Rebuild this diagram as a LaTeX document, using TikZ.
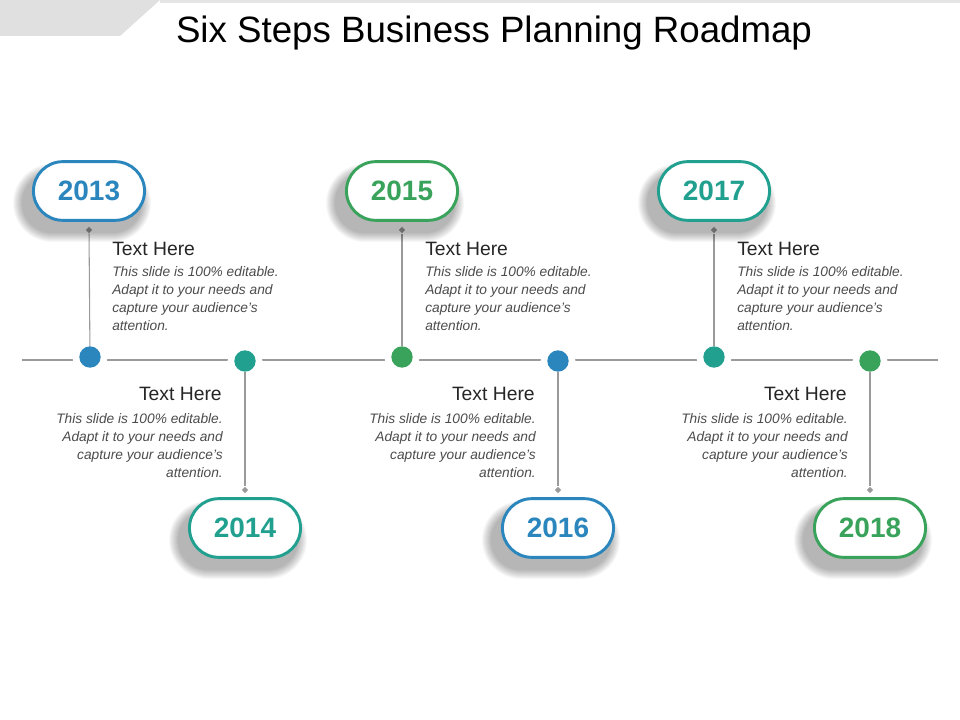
\documentclass[tikz,border=0pt]{standalone}
\usepackage{fontspec}
\setmainfont{Liberation Sans}
\usetikzlibrary{shapes.misc,shapes.geometric}
\definecolor{cblue}{HTML}{2A86BD}
\definecolor{cteal}{HTML}{22A08F}
\definecolor{cgreen}{HTML}{3AA35B}
\definecolor{cgray}{HTML}{9A9A9A}
\tikzset{
 pill/.style={draw=#1,line width=2.2pt,fill=white,rounded rectangle,minimum width=90pt,minimum height=44pt,text=#1,font=\bfseries\fontsize{21}{24}\selectfont},
 dotn/.style={circle,fill=#1,inner sep=0pt,minimum size=16pt},
 conn/.style={draw=cgray,line width=0.8pt},
 dia/.style={diamond,fill=cgray,inner sep=0pt,minimum size=5pt},
 head/.style={font=\fontsize{14.5}{16}\selectfont,text=black!85,inner sep=0pt},
 body/.style={font=\itshape\fontsize{10.3}{13.5}\selectfont,text=black!70,inner sep=0pt,align=#1},
 shade/.style={fill=black,opacity=0.03},
}
\newcommand{\pillshade}[2]{%
 \foreach \i in {0,...,9}{
  \pgfmathsetmacro{\rr}{(29+10-\i)*0.75}
  \fill[shade,rounded corners=\rr pt] (#1-7-69+\i,#2+12-39+\i) rectangle (#1-7+69-\i,#2+12+39-\i);
 }}
\begin{document}
\begin{tikzpicture}[x=0.75pt,y=-0.75pt]
\useasboundingbox (0,0) rectangle (960,720);
\fill[white] (0,0) rectangle (960,720);
\fill[black!12] (0,0) -- (160,0) -- (120,36) -- (0,36) -- cycle;
\fill[black!10] (160,0) rectangle (960,3);
\node[font=\fontsize{27.5}{30}\selectfont] (title) at (494,33) {Six Steps Business Planning Roadmap};
\coordinate (L) at (22,360); \coordinate (R) at (938,360);
\draw[conn] (L) -- (R);
\foreach \n/\x/\y/\c in {a/90/357/cblue,b/245/361/cteal,c/402/357/cgreen,d/558/361/cblue,e/714/357/cteal,f/870/361/cgreen}{
 \node[dotn=white,minimum size=26pt] at (\x,\y) {};
 \node[dotn=\c] (d\n) at (\x,\y) {};
}
\foreach \n/\x/\c/\t in {a/89/cblue/2013,c/402/cgreen/2015,e/714/cteal/2017}{
 \node[dia] (k\n) at (\x,230) {};
 \draw[conn] (k\n) -- (d\n);
 \pillshade{\x}{191}
 \node[pill=\c] (p\n) at (\x,191) {\t};
 \node[head,anchor=west] (h\n) at (\x+23,249) {Text Here};
 \node[body=left,anchor=north west] (t\n) at (\x+23,266) {This slide is 100\% editable.\\Adapt it to your needs and\\capture your audience's\\attention.};
}
\foreach \n/\x/\c/\t in {b/245/cteal/2014,d/558/cblue/2016,f/870/cgreen/2018}{
 \node[dia] (k\n) at (\x,490) {};
 \draw[conn] (d\n) -- (k\n);
 \pillshade{\x}{528}
 \node[pill=\c] (p\n) at (\x,528) {\t};
 \node[head,anchor=east] (h\n) at (\x-23,394) {Text Here};
 \node[body=right,anchor=north east] (t\n) at (\x-22,413) {This slide is 100\% editable.\\Adapt it to your needs and\\capture your audience's\\attention.};
}
\end{tikzpicture}
\end{document}
